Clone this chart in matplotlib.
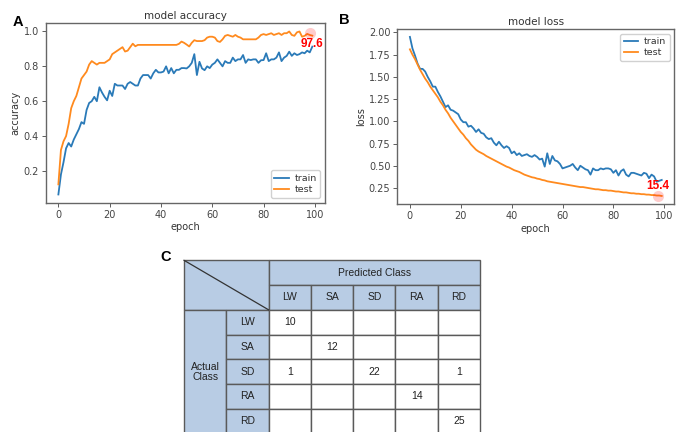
import numpy as np
import matplotlib
matplotlib.use("Agg")
import matplotlib.pyplot as plt
from matplotlib.patches import Rectangle

# ---- training history ----
epochs = np.arange(100)

train_acc = [0.065, 0.18, 0.25, 0.33, 0.36, 0.34, 0.38, 0.41, 0.44, 0.48,
             0.47, 0.55, 0.59, 0.60, 0.625, 0.60, 0.68, 0.65, 0.625, 0.605,
             0.66, 0.63, 0.70, 0.69, 0.69, 0.69, 0.67, 0.70, 0.71, 0.70,
             0.69, 0.69, 0.73, 0.75, 0.75, 0.75, 0.73, 0.76, 0.78, 0.765,
             0.765, 0.77, 0.80, 0.76, 0.79, 0.76, 0.78, 0.78, 0.79, 0.79,
             0.788, 0.80, 0.82, 0.87, 0.75, 0.826, 0.788, 0.778, 0.80, 0.79,
             0.81, 0.82, 0.84, 0.82, 0.80, 0.83, 0.82, 0.82, 0.85, 0.83,
             0.84, 0.84, 0.865, 0.82, 0.84, 0.836, 0.84, 0.84, 0.82, 0.835,
             0.836, 0.875, 0.83, 0.84, 0.84, 0.85, 0.88, 0.83, 0.85, 0.86,
             0.884, 0.86, 0.875, 0.865, 0.87, 0.88, 0.875, 0.89, 0.88, 0.913]

test_acc = [0.123, 0.32, 0.37, 0.40, 0.47, 0.56, 0.60, 0.63, 0.68, 0.73,
            0.75, 0.77, 0.81, 0.83, 0.82, 0.81, 0.82, 0.82, 0.82, 0.83,
            0.84, 0.87, 0.88, 0.89, 0.90, 0.91, 0.885, 0.89, 0.91, 0.93,
            0.915, 0.923, 0.923, 0.923, 0.923, 0.923, 0.923, 0.923, 0.923, 0.923,
            0.923, 0.923, 0.923, 0.923, 0.923, 0.923, 0.923, 0.929, 0.942, 0.935,
            0.925, 0.914, 0.935, 0.95, 0.945, 0.945, 0.945, 0.95, 0.965, 0.97,
            0.97, 0.965, 0.945, 0.94, 0.955, 0.975, 0.98, 0.975, 0.97, 0.98,
            0.97, 0.965, 0.955, 0.955, 0.955, 0.955, 0.955, 0.955, 0.965, 0.98,
            0.985, 0.98, 0.985, 0.99, 0.98, 0.985, 0.99, 0.98, 0.99, 0.99,
            1.0, 0.98, 0.975, 0.995, 1.0, 0.97, 0.975, 0.986, 0.98, 0.976]

train_loss = [1.95, 1.82, 1.74, 1.65, 1.59, 1.59, 1.56, 1.50, 1.45, 1.39,
              1.39, 1.33, 1.28, 1.22, 1.16, 1.18, 1.13, 1.12, 1.10, 1.08,
              1.02, 0.99, 0.99, 0.94, 0.95, 0.92, 0.88, 0.91, 0.87, 0.86,
              0.82, 0.80, 0.81, 0.76, 0.73, 0.77, 0.73, 0.70, 0.72, 0.70,
              0.64, 0.66, 0.62, 0.64, 0.61, 0.62, 0.63, 0.61, 0.60, 0.62,
              0.60, 0.57, 0.58, 0.49, 0.64, 0.52, 0.61, 0.56, 0.55, 0.52,
              0.47, 0.48, 0.49, 0.50, 0.52, 0.48, 0.45, 0.50, 0.48, 0.46,
              0.45, 0.40, 0.47, 0.45, 0.45, 0.47, 0.46, 0.47, 0.47, 0.46,
              0.42, 0.45, 0.39, 0.44, 0.46, 0.40, 0.38, 0.42, 0.42, 0.41,
              0.40, 0.39, 0.42, 0.41, 0.36, 0.40, 0.38, 0.32, 0.33, 0.34]

test_loss = [1.81, 1.75, 1.70, 1.64, 1.58, 1.53, 1.48, 1.44, 1.39, 1.35,
             1.31, 1.27, 1.22, 1.18, 1.13, 1.09, 1.04, 1.00, 0.96, 0.92,
             0.88, 0.85, 0.81, 0.78, 0.74, 0.71, 0.68, 0.66, 0.645, 0.63,
             0.61, 0.595, 0.58, 0.565, 0.55, 0.535, 0.52, 0.505, 0.49, 0.48,
             0.465, 0.45, 0.44, 0.43, 0.415, 0.40, 0.39, 0.38, 0.37, 0.365,
             0.355, 0.35, 0.34, 0.335, 0.325, 0.32, 0.315, 0.31, 0.305, 0.30,
             0.295, 0.29, 0.285, 0.28, 0.275, 0.27, 0.265, 0.26, 0.26, 0.255,
             0.25, 0.245, 0.24, 0.235, 0.235, 0.23, 0.225, 0.225, 0.22, 0.22,
             0.215, 0.21, 0.21, 0.205, 0.20, 0.20, 0.195, 0.19, 0.19, 0.185,
             0.185, 0.18, 0.18, 0.175, 0.175, 0.17, 0.17, 0.165, 0.165, 0.16]

# highlighted end points and their labels
acc_mark = (98, 0.99)
acc_label = ("97.6", 99, 0.93)
loss_mark = (97.5, 0.163)
loss_label = ("15.4", 97.3, 0.27)

# ---- confusion matrix ----
classes = ["LW", "SA", "SD", "RA", "RD"]
conf = [[10, 0, 0, 0, 0],
        [0, 12, 0, 0, 0],
        [1, 0, 22, 0, 1],
        [0, 0, 0, 14, 0],
        [0, 0, 0, 0, 25]]

BLUE = "#2a7ab8"
ORANGE = "#ff8a1e"
HEAD = "#b8cce4"
EDGE = "#5a5a5a"

plt.rcParams["font.size"] = 7
plt.rcParams["axes.edgecolor"] = "#666666"
plt.rcParams["xtick.color"] = "#444444"
plt.rcParams["ytick.color"] = "#444444"
plt.rcParams["text.color"] = "#333333"
plt.rcParams["axes.labelcolor"] = "#333333"

fig = plt.figure(figsize=(6.88, 4.32), dpi=100)


def history_panel(rect, train, test, title, ylabel, legend_loc, mark, label):
    ax = fig.add_axes(rect)
    ax.plot(epochs, train, color=BLUE, lw=1.3, label="train")
    ax.plot(epochs, test, color=ORANGE, lw=1.3, label="test")
    ax.plot(mark[0], mark[1], "o", ms=8, color="red", alpha=0.2, mec="none")
    ax.text(label[1], label[2], label[0], color="red", fontsize=8.5,
            fontweight="bold", family="Liberation Sans", ha="center", va="center")
    ax.set_title(title, fontsize=7.5, pad=3)
    ax.set_xlabel("epoch", labelpad=2)
    ax.set_ylabel(ylabel, labelpad=2)
    ax.set_xticks([0, 20, 40, 60, 80, 100])
    ax.tick_params(length=3, width=0.6, pad=2)
    for s in ax.spines.values():
        s.set_linewidth(1.0)
    ax.legend(loc=legend_loc, fontsize=6.8, handlelength=1.5, borderpad=0.4,
              labelspacing=0.2, handletextpad=0.6, framealpha=0.9)
    return ax


ax_a = history_panel([0.0664, 0.531, 0.406, 0.415], train_acc, test_acc,
                     "model accuracy", "accuracy", "lower right", acc_mark, acc_label)
ax_a.set_yticks([0.2, 0.4, 0.6, 0.8, 1.0])

ax_b = history_panel([0.5775, 0.528, 0.4026, 0.405], train_loss, test_loss,
                     "model loss", "loss", "upper right", loss_mark, loss_label)
ax_b.set_yticks([0.25, 0.5, 0.75, 1.0, 1.25, 1.5, 1.75, 2.0])
ax_b.set_yticklabels(["0.25", "0.50", "0.75", "1.00", "1.25", "1.50", "1.75", "2.00"])

# ---- panel C: confusion table drawn on a cell grid ----
n = len(classes)
ncol = n + 2
nrow = n + 2
tab = fig.add_axes([184 / 688, -1.6 / 432, 296 / 688, 173.3 / 432])
tab.set_xlim(0, ncol)
tab.set_ylim(nrow, 0)
tab.axis("off")

tfont = dict(family="Liberation Sans", fontsize=7.5, color="#222222",
             ha="center", va="center")


def cell(x, y, w, h, fill):
    tab.add_patch(Rectangle((x, y), w, h, facecolor=fill, edgecolor=EDGE,
                            lw=1.0, clip_on=False))


cell(0, 0, 2, 2, HEAD)
tab.plot([0, 2], [0, 2], color="#333333", lw=0.9, clip_on=False)
cell(2, 0, n, 1, HEAD)
tab.text(2 + n / 2, 0.5, "Predicted Class", **tfont)
cell(0, 2, 1, n, HEAD)
tab.text(0.5, 2 + n / 2, "Actual\nClass", linespacing=1.0, **tfont)
for i, c in enumerate(classes):
    cell(2 + i, 1, 1, 1, HEAD)
    tab.text(2.5 + i, 1.5, c, **tfont)
    cell(1, 2 + i, 1, 1, HEAD)
    tab.text(1.5, 2.5 + i, c, **tfont)
for i in range(n):
    for j in range(n):
        cell(2 + j, 2 + i, 1, 1, "white")
        if conf[i][j]:
            tab.text(2.5 + j, 2.5 + i, str(conf[i][j]), **tfont)

# panel letters
for letter, x, y in [("A", 18, 22), ("B", 344, 20), ("C", 166, 257)]:
    fig.text(x / 688, 1 - y / 432, letter, fontsize=10.5, fontweight="bold",
             family="Liberation Sans", color="black", ha="center", va="center")

fig.savefig("out.png", dpi=100)
